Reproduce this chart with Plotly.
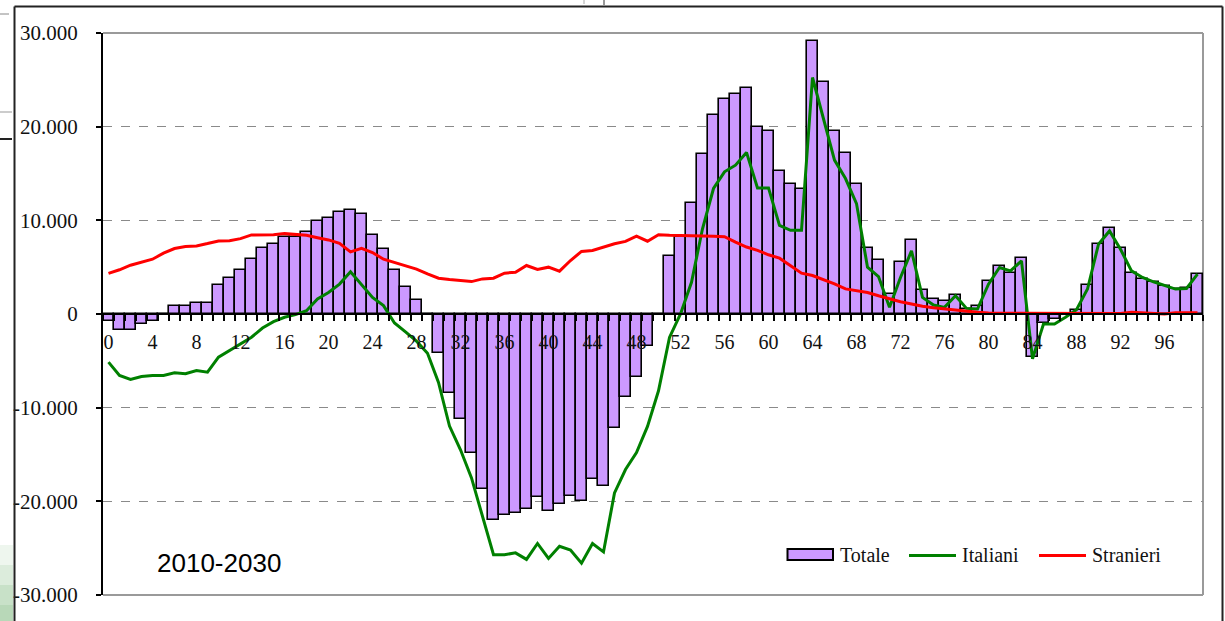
import plotly.graph_objects as go

# ---------------- data ----------------
ages = list(range(100))
x_tick_labels = [str(a) for a in range(0, 100, 4)]
y_tick_values = [30000, 20000, 10000, 0, -10000, -20000, -30000]
y_tick_labels = ["30.000", "20.000", "10.000", "0", "-10.000", "-20.000", "-30.000"]

totale = [
    -800, -1700, -1700, -1100, -700, -100, 850, 850, 1130, 1130,
    3080, 3870, 4650, 5820, 7090, 7480, 8230, 8230, 8720, 9960,
    10210, 10920, 11130, 10640, 8440, 6910, 4680, 2910, 1520, -150,
    -4180, -8460, -11180, -14820, -18680, -21970, -21430, -21250, -20820, -19570,
    -21000, -20250, -19460, -20000, -17610, -18320, -12140, -8820, -6720, -3390,
    -100, 6180, 8210, 11860, 17040, 21250, 22960, 23500, 24180, 19930,
    19540, 15250, 13930, 13320, 29180, 24750, 19540, 17220, 13930, 7090,
    5800, 2130, 5600, 7910, 2550, 1600, 1380, 2060, 530, 820,
    3550, 5140, 4430, 5960, -4540, -960, -530, -100, 430, 3090,
    7520, 9220, 7090, 4430, 3790, 3440, 2940, 2660, 2730, 4260,
]

italiani = [
    -5140, -6560, -6990, -6670, -6560, -6560, -6280, -6380, -6030, -6210,
    -4610, -3900, -3190, -2480, -1500, -820, -350, -70, 350, 1600,
    2300, 3190, 4500, 3190, 1770, 890, -960, -1900, -2900, -4200,
    -7300, -11960, -14500, -17500, -21600, -25700, -25700, -25500, -26200, -24500,
    -26100, -24800, -25200, -26600, -24500, -25400, -19100, -16600, -14800, -12000,
    -8200, -2500, 0, 3390, 9100, 13400, 15180, 15890, 17250, 13460,
    13460, 9460, 8930, 8930, 25250, 20890, 16430, 14460, 11790, 5000,
    4000, 710, 3900, 6740, 1770, 960, 710, 1950, 600, 530,
    3190, 4960, 4610, 5670, -4790, -1060, -1060, -350, 460, 2660,
    7450, 8870, 6910, 4610, 3900, 3440, 3090, 2660, 2730, 4260,
]

stranieri = [
    4330, 4720, 5210, 5500, 5850, 6490, 6990, 7200, 7270, 7520,
    7800, 7830, 8050, 8440, 8440, 8470, 8580, 8470, 8400, 8150,
    7910, 7550, 6630, 7020, 6560, 5850, 5500, 5100, 4800, 4290,
    3820, 3680, 3570, 3460, 3750, 3820, 4360, 4460, 5180, 4750,
    5000, 4570, 5710, 6680, 6790, 7140, 7500, 7750, 8320, 7770,
    8460, 8400, 8350, 8320, 8320, 8300, 8250, 7680, 7150, 6790,
    6320, 5960, 5180, 4360, 4110, 3680, 3220, 2680, 2500, 2300,
    1950, 1600, 1310, 1060, 820, 670, 530, 430, 280, 180,
    100, 100, 100, 100, 100, 100, 100, 100, 100, 50,
    50, 50, 50, 180, 100, 0, 0, 140, 140, 140,
]

series_names = ["Totale", "Italiani", "Stranieri"]
title_text = "2010-2030"

# ---------------- styles ----------------
W, H = 1225, 621
L, R, T, B = 103, 22, 33, 26
PW, PH = W - L - R, H - T - B
BAR_FILL = "#CC99FF"
GREEN = "#008000"
RED = "#FF0000"
SERIF = "Liberation Serif, Times New Roman, serif"


def px(x):
    return (x - L) / PW


def py(y):
    return (H - B - y) / PH


fig = go.Figure()
fig.add_trace(go.Bar(
    x=ages, y=totale, name=series_names[0],
    marker=dict(color=BAR_FILL, line=dict(color="black", width=1.6)),
    showlegend=False, hoverinfo="skip",
))
fig.add_trace(go.Scatter(
    x=ages, y=italiani, name=series_names[1], mode="lines",
    line=dict(color=GREEN, width=3), showlegend=False, hoverinfo="skip",
))
fig.add_trace(go.Scatter(
    x=ages, y=stranieri, name=series_names[2], mode="lines",
    line=dict(color=RED, width=3), showlegend=False, hoverinfo="skip",
))

shapes = []
# plot-area border (top, right, bottom) in gray
for (x0, y0, x1, y1) in [(0, 1, 1, 1), (1, 0, 1, 1), (0, 0, 1, 0)]:
    shapes.append(dict(type="line", xref="paper", yref="paper", x0=x0, y0=y0, x1=x1, y1=y1,
                       line=dict(color="#9a9a9a", width=2), layer="below"))
# outer frame
fx0, fx1, fy_top = px(14.5), px(1222.5), py(6.5)
shapes.append(dict(type="line", xref="paper", yref="paper", x0=fx0, x1=fx1, y0=fy_top, y1=fy_top,
                   line=dict(color="#222", width=2)))
shapes.append(dict(type="line", xref="paper", yref="paper", x0=fx0, x1=fx0, y0=fy_top, y1=py(625),
                   line=dict(color="#222", width=2)))
shapes.append(dict(type="line", xref="paper", yref="paper", x0=fx1, x1=fx1, y0=fy_top, y1=py(625),
                   line=dict(color="#222", width=2)))
# left slide artifacts
shapes.append(dict(type="line", xref="paper", yref="paper", x0=px(0), x1=px(12), y0=py(14), y1=py(14),
                   line=dict(color="#888", width=1, dash="dash")))
shapes.append(dict(type="line", xref="paper", yref="paper", x0=px(0), x1=px(12), y0=py(112), y1=py(112),
                   line=dict(color="#999", width=1)))
shapes.append(dict(type="line", xref="paper", yref="paper", x0=px(0), x1=px(12), y0=py(139), y1=py(139),
                   line=dict(color="#222", width=2)))
greens = ["#eef6ee", "#dcecdc", "#c8e1c8", "#b8d8b8"]
for i, g in enumerate(greens):
    shapes.append(dict(type="rect", xref="paper", yref="paper", x0=px(0), x1=px(13),
                       y0=py(545 + 20 * (i + 1)), y1=py(545 + 20 * i),
                       fillcolor=g, line=dict(width=0)))
# top small marks
shapes.append(dict(type="line", xref="paper", yref="paper", x0=px(584), x1=px(584), y0=py(0), y1=py(4),
                   line=dict(color="#aaa", width=1)))
shapes.append(dict(type="line", xref="paper", yref="paper", x0=px(604), x1=px(604), y0=py(0), y1=py(5),
                   line=dict(color="#333", width=1)))

# custom legend
leg_y = py(554.5)
shapes.append(dict(type="rect", xref="paper", yref="paper", x0=px(787.5), x1=px(833), y0=py(560), y1=py(549),
                   fillcolor=BAR_FILL, line=dict(color="black", width=2)))
shapes.append(dict(type="line", xref="paper", yref="paper", x0=px(909), x1=px(956), y0=py(555.5), y1=py(555.5),
                   line=dict(color=GREEN, width=3)))
shapes.append(dict(type="line", xref="paper", yref="paper", x0=px(1039), x1=px(1086), y0=py(555.5), y1=py(555.5),
                   line=dict(color=RED, width=3)))

annotations = []
for name, xl in zip(series_names, [838, 960, 1090]):
    annotations.append(dict(text=name, xref="paper", yref="paper", x=px(xl), y=leg_y,
                            xanchor="left", yanchor="middle", showarrow=False,
                            font=dict(family=SERIF, size=20, color="#111")))
annotations.append(dict(text=title_text, xref="paper", yref="paper", x=px(219), y=py(563),
                        xanchor="center", yanchor="middle", showarrow=False,
                        font=dict(family="Liberation Sans, Arial, sans-serif", size=26, color="black")))

fig.update_layout(
    width=W, height=H,
    margin=dict(l=L, r=R, t=T, b=B, pad=0),
    paper_bgcolor="white", plot_bgcolor="white",
    bargap=0,
    shapes=shapes,
    annotations=annotations,
    xaxis=dict(
        type="linear", range=[-0.5, 99.5],
        anchor="free", position=0.5,
        showline=True, linecolor="black", linewidth=2,
        tickmode="array", tickvals=list(range(0, 100, 4)), ticktext=x_tick_labels,
        ticks="", ticklabelstandoff=10,
        tickfont=dict(family=SERIF, size=20, color="#111"),
        showgrid=False, zeroline=False,
        minor=dict(tickmode="array", tickvals=[a - 0.5 for a in range(0, 101)],
                   ticks="outside", ticklen=6, tickwidth=1.5, tickcolor="black", showgrid=False),
    ),
    yaxis=dict(
        range=[-30000, 30000],
        showline=True, linecolor="black", linewidth=2,
        tickmode="array", tickvals=y_tick_values, ticktext=y_tick_labels,
        ticks="outside", ticklen=5, tickwidth=2, tickcolor="black",
        ticklabelstandoff=14,
        tickfont=dict(family=SERIF, size=21, color="#111"),
        showgrid=True, gridcolor="#8a8a8a", gridwidth=1, griddash="dash",
        zeroline=False,
    ),
)

fig.write_html(
    "out.html",
    config={"displayModeBar": False},
    post_script="document.body.style.margin='0';document.body.style.overflow='hidden';",
)
